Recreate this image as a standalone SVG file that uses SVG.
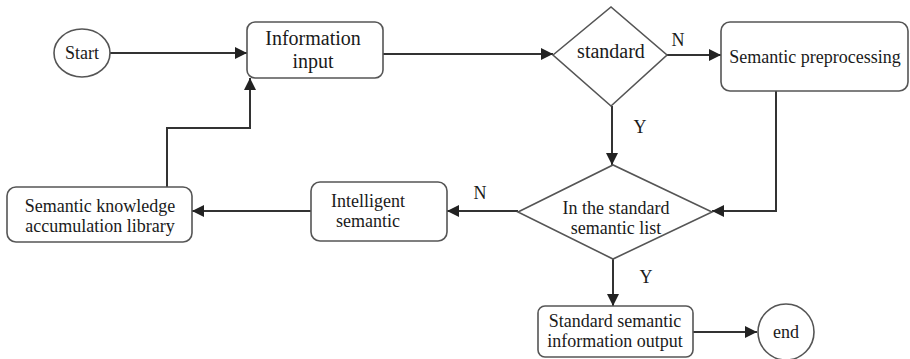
<svg xmlns="http://www.w3.org/2000/svg" width="910" height="359" viewBox="0 0 910 359" font-family="'Liberation Serif', 'Times New Roman', serif">
  <defs>
    <marker id="arrow" viewBox="0 0 10 10" refX="10" refY="5" markerWidth="14" markerHeight="12" markerUnits="userSpaceOnUse" orient="auto">
      <path d="M0,0 L10,5 L0,10 z" fill="#222"/>
    </marker>
    <style>
      .box { fill: #fff; stroke: #555; stroke-width: 1.6; }
      .edge { fill: none; stroke: #333; stroke-width: 2; }
      .lbl { font-family: "Liberation Serif", "Times New Roman", serif; font-size: 18px; fill: #1a1a1a; text-anchor: middle; }
      .big { font-size: 20px; }
    </style>
  </defs>
  <rect width="910" height="359" fill="#fff"/>

  <g id="connectors">
    <line class="edge" x1="110" y1="53" x2="247" y2="53" marker-end="url(#arrow)"/>
    <line class="edge" x1="383" y1="54" x2="553" y2="54" marker-end="url(#arrow)"/>
    <line class="edge" x1="667" y1="55" x2="721" y2="55" marker-end="url(#arrow)"/>
    <line class="edge" x1="612" y1="106" x2="612" y2="165" marker-end="url(#arrow)"/>
    <polyline class="edge" points="776,91 776,211 712,211" marker-end="url(#arrow)"/>
    <line class="edge" x1="518" y1="211" x2="447" y2="211" marker-end="url(#arrow)"/>
    <line class="edge" x1="311" y1="211" x2="192" y2="211" marker-end="url(#arrow)"/>
    <polyline class="edge" points="167,187 167,128 250,128 250,78" marker-end="url(#arrow)"/>
    <line class="edge" x1="613" y1="259" x2="613" y2="306" marker-end="url(#arrow)"/>
    <line class="edge" x1="693" y1="332" x2="757" y2="332" marker-end="url(#arrow)"/>
    <text class="lbl" x="678" y="46">N</text>
    <text class="lbl" x="640" y="133">Y</text>
    <text class="lbl" x="480" y="199">N</text>
    <text class="lbl" x="646" y="283">Y</text>
  </g>

  <g id="start">
    <ellipse class="box" cx="82" cy="53" rx="28" ry="24"/>
    <text class="lbl" x="82" y="59">Start</text>
  </g>

  <g id="information-input">
    <rect class="box" x="247" y="22" width="136" height="56" rx="8"/>
    <text class="lbl big" x="313" y="45">Information</text>
    <text class="lbl big" x="313" y="68">input</text>
  </g>

  <g id="standard">
    <polygon class="box" points="553,55 611,7 667,55 611,106"/>
    <text class="lbl big" x="611" y="58">standard</text>
  </g>

  <g id="semantic-preprocessing">
    <rect class="box" x="721" y="22" width="187" height="69" rx="9"/>
    <text class="lbl" x="815" y="63">Semantic preprocessing</text>
  </g>

  <g id="standard-list">
    <polygon class="box" points="518,212 613,165 712,212 613,259"/>
    <text class="lbl" x="616" y="214">In the standard</text>
    <text class="lbl" x="616" y="234">semantic list</text>
  </g>

  <g id="intelligent-semantic">
    <rect class="box" x="311" y="182" width="136" height="59" rx="9"/>
    <text class="lbl" x="368" y="207">Intelligent</text>
    <text class="lbl" x="368" y="227">semantic</text>
  </g>

  <g id="knowledge-library">
    <rect class="box" x="7" y="187" width="185" height="55" rx="9"/>
    <text class="lbl" x="100" y="212">Semantic knowledge</text>
    <text class="lbl" x="100" y="232">accumulation library</text>
  </g>

  <g id="standard-output">
    <rect class="box" x="538" y="306" width="155" height="51" rx="7"/>
    <text class="lbl" x="615" y="327">Standard semantic</text>
    <text class="lbl" x="615" y="347">information output</text>
  </g>

  <g id="end">
    <circle class="box" cx="786" cy="332" r="28"/>
    <text class="lbl" x="786" y="338">end</text>
  </g>
</svg>
